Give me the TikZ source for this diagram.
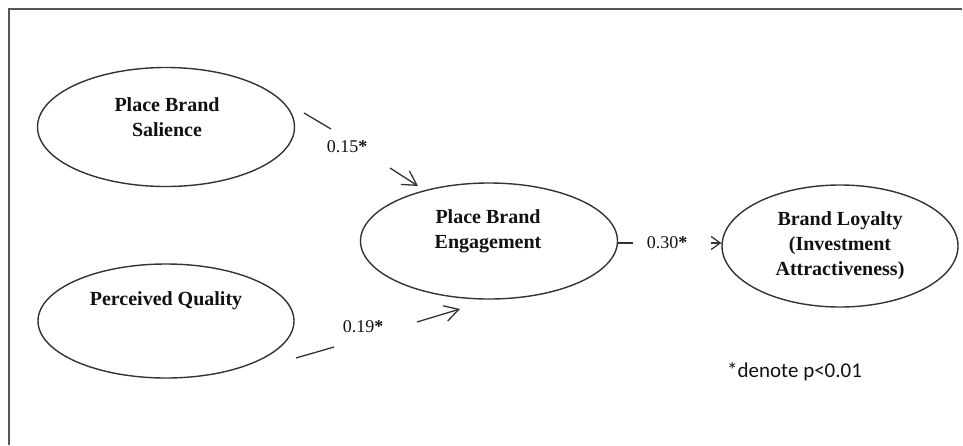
\documentclass[tikz,border=0pt]{standalone}
\usepackage{fontspec}
\setmainfont{Liberation Serif}
\newfontfamily\notefont{Carlito}
\usetikzlibrary{arrows.meta,shapes.geometric}
\definecolor{linecol}{HTML}{333333}
\definecolor{framecol}{HTML}{555555}
\definecolor{textcol}{HTML}{111111}
\begin{document}
\begin{tikzpicture}[x=1pt,y=-1pt,
  ell/.style={draw=linecol, line width=1.4pt, ellipse, inner sep=0pt},
  ltext/.style={align=center, text=textcol, font=\fontsize{20}{25}\selectfont\bfseries},
  coef/.style={text=textcol, font=\fontsize{18}{22}\selectfont, inner sep=0pt},
  conn/.style={draw=linecol, line width=1.3pt},
  bigtip/.style={-{Straight Barb[length=14pt,width=16pt,line width=1.3pt]}},
  smalltip/.style={-{Straight Barb[length=9pt,width=13pt,line width=1.3pt]}}
]
\useasboundingbox (0,0) rectangle (963,445);
% frame
\draw[framecol, line width=2pt] (9,445) -- (9,9) -- (962,9);
% ellipses
\node[ell, minimum width=257pt, minimum height=119pt] (sal) at (166,127) {};
\node[ell, minimum width=256pt, minimum height=114pt] (pq) at (166,321) {};
\node[ell, minimum width=257pt, minimum height=116pt] (eng) at (489,241) {};
\node[ell, minimum width=236pt, minimum height=122pt] (loy) at (840,246) {};
% texts
\node[ltext] (salt) at (167,117) {Place Brand\\Salience};
\node[ltext] (pqt) at (166,301) {Perceived Quality};
\node[ltext] (engt) at (488,231) {Place Brand\\Engagement};
\node[ltext] (loyt) at (840,246) {Brand Loyalty\\(Investment\\Attractiveness)};
% connector 1
\coordinate (s1) at (304,113);
\coordinate (e1) at (331,129);
\coordinate (r1) at (390,168);
\coordinate (t1) at (418,186);
\draw[conn] (s1) -- (e1);
\draw[conn, bigtip] (r1) -- (t1);
\node[coef] (c1) at (347,147) {0.15\textbf{*}};
% connector 2
\coordinate (s2) at (296,358);
\coordinate (e2) at (334,347);
\coordinate (r2) at (417,322);
\coordinate (t2) at (460,309);
\draw[conn] (s2) -- (e2);
\draw[conn, bigtip] (r2) -- (t2);
\node[coef] (c2) at (363,327) {0.19\textbf{*}};
% connector 3
\coordinate (e3) at (633,243);
\coordinate (r3) at (711,243);
\draw[conn] (eng.east |- e3) -- (e3);
\draw[conn, smalltip] (r3) -- (loy.west |- r3);
\node[coef] (c3) at (667,243) {0.30\textbf{*}};
% note
\node[anchor=base west, inner sep=0pt, text=textcol, font=\notefont\fontsize{21}{25}\selectfont] (note) at (727,377) {*denote p<0.01};
\end{tikzpicture}
\end{document}
